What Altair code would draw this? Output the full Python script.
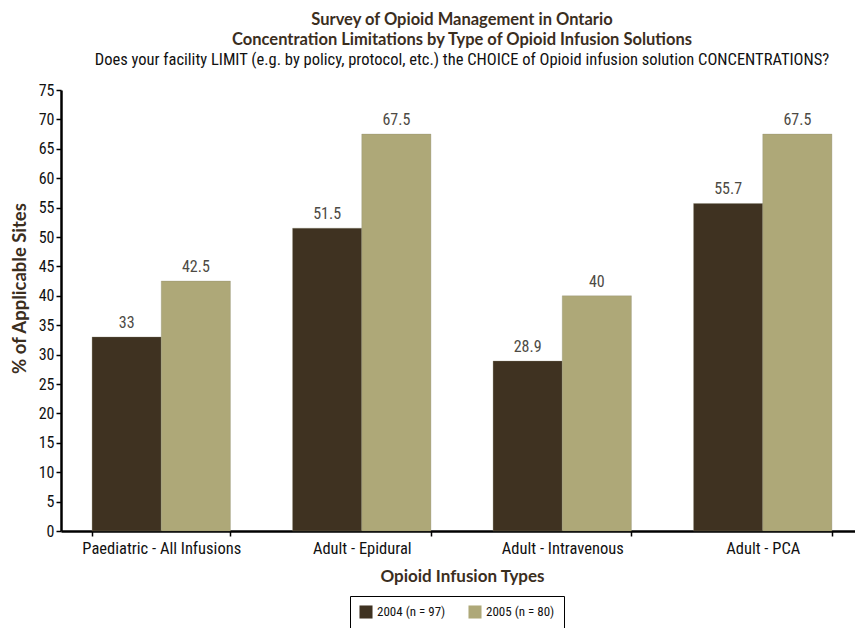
import altair as alt
import pandas as pd

# Survey results: share of sites limiting opioid infusion concentrations
categories = ["Paediatric - All Infusions", "Adult - Epidural", "Adult - Intravenous", "Adult - PCA"]
years = ["2004 (n = 97)", "2005 (n = 80)"]
values_2004 = [33, 51.5, 28.9, 55.7]
values_2005 = [42.5, 67.5, 40, 67.5]
y_ticks = list(range(0, 80, 5))

rows = []
for cat, v4, v5 in zip(categories, values_2004, values_2005):
    rows.append({"type": cat, "year": years[0], "pct": v4, "label": f"{v4:g}"})
    rows.append({"type": cat, "year": years[1], "pct": v5, "label": f"{v5:g}"})
df = pd.DataFrame(rows)

COND = "Liberation Sans Narrow, Roboto Condensed, DejaVu Sans Condensed, Arial Narrow, sans-serif"
HEAD = "Lato, Open Sans, sans-serif"
BROWN = "#3b2e1e"

x_enc = alt.X(
    "type:N",
    sort=categories,
    scale=alt.Scale(paddingInner=0.31, paddingOuter=0.155),
    axis=alt.Axis(
        title="Opioid Infusion Types",
        labelAngle=0,
        ticks=True,
        tickBand="extent",
        tickSize=5,
        tickColor="black",
        tickWidth=1.5,
        labelPadding=4,
        labelFont=COND,
        labelFontSize=16.5,
        labelColor="#111111",
        titleFont=HEAD,
        titleFontSize=17,
        titleFontWeight="bold",
        titleColor=BROWN,
        titlePadding=12,
        domainColor="black",
        domainWidth=2.5,
    ),
)
x_off = alt.XOffset("year:N", sort=years)

y_enc = alt.Y(
    "pct:Q",
    scale=alt.Scale(domain=[0, 75], nice=False),
    axis=alt.Axis(
        title="% of Applicable Sites",
        values=y_ticks,
        labelOverlap=False,
        grid=False,
        tickSize=5,
        tickColor="black",
        tickWidth=1.5,
        labelPadding=2,
        labelFont=COND,
        labelFontSize=16,
        labelColor="#111111",
        titleFont=HEAD,
        titleFontSize=18.5,
        titleFontWeight="bold",
        titleColor=BROWN,
        titlePadding=9,
        titleY=198,
        domainColor="black",
        domainWidth=2.5,
    ),
)

bars = alt.Chart(df).mark_bar(stroke="#8a8570", strokeWidth=0.5, strokeOpacity=0.6).encode(
    x=x_enc,
    xOffset=x_off,
    y=y_enc,
    color=alt.Color(
        "year:N",
        sort=years,
        scale=alt.Scale(domain=years, range=["#3f3221", "#aea878"]),
        legend=alt.Legend(
            title=" ",
            titleOrient="bottom",
            titleFontSize=18,
            titlePadding=0,
            orient="none",
            legendX=289,
            legendY=506,
            direction="horizontal",
            symbolType="square",
            symbolSize=170,
            symbolStrokeWidth=0,
            labelFont=COND,
            labelFontSize=13,
            labelColor="#111111",
            columnPadding=22,
            padding=9,
            strokeColor="black",
            fillColor="white",
        ),
    ),
)

labels = alt.Chart(df).mark_text(
    baseline="bottom", dy=-6, font=COND, fontSize=16, color="#4d4a44"
).encode(
    x=x_enc,
    xOffset=x_off,
    y=y_enc,
    text="label:N",
)

chart = (
    alt.layer(bars, labels)
    .properties(
        width=802,
        height=441,
        autosize=alt.AutoSizeParams(type="none"),
        padding={"left": 61, "top": 90, "right": -8, "bottom": 97},
        title=alt.Title(
            ["Survey of Opioid Management in Ontario",
             "Concentration Limitations by Type of Opioid Infusion Solutions"],
            subtitle="Does your facility LIMIT (e.g. by policy, protocol, etc.) the CHOICE of Opioid infusion solution CONCENTRATIONS?",
            anchor="middle",
            frame="group",
            font=HEAD,
            fontSize=16.5,
            fontWeight="bold",
            color=BROWN,
            lineHeight=20,
            subtitleFont=COND,
            subtitleFontSize=16.5,
            subtitleColor="#111111",
            subtitlePadding=3,
            offset=14,
        ),
    )
    .configure_view(stroke=None)
)

chart.save("out.html", embed_options={"renderer": "svg", "actions": False})
